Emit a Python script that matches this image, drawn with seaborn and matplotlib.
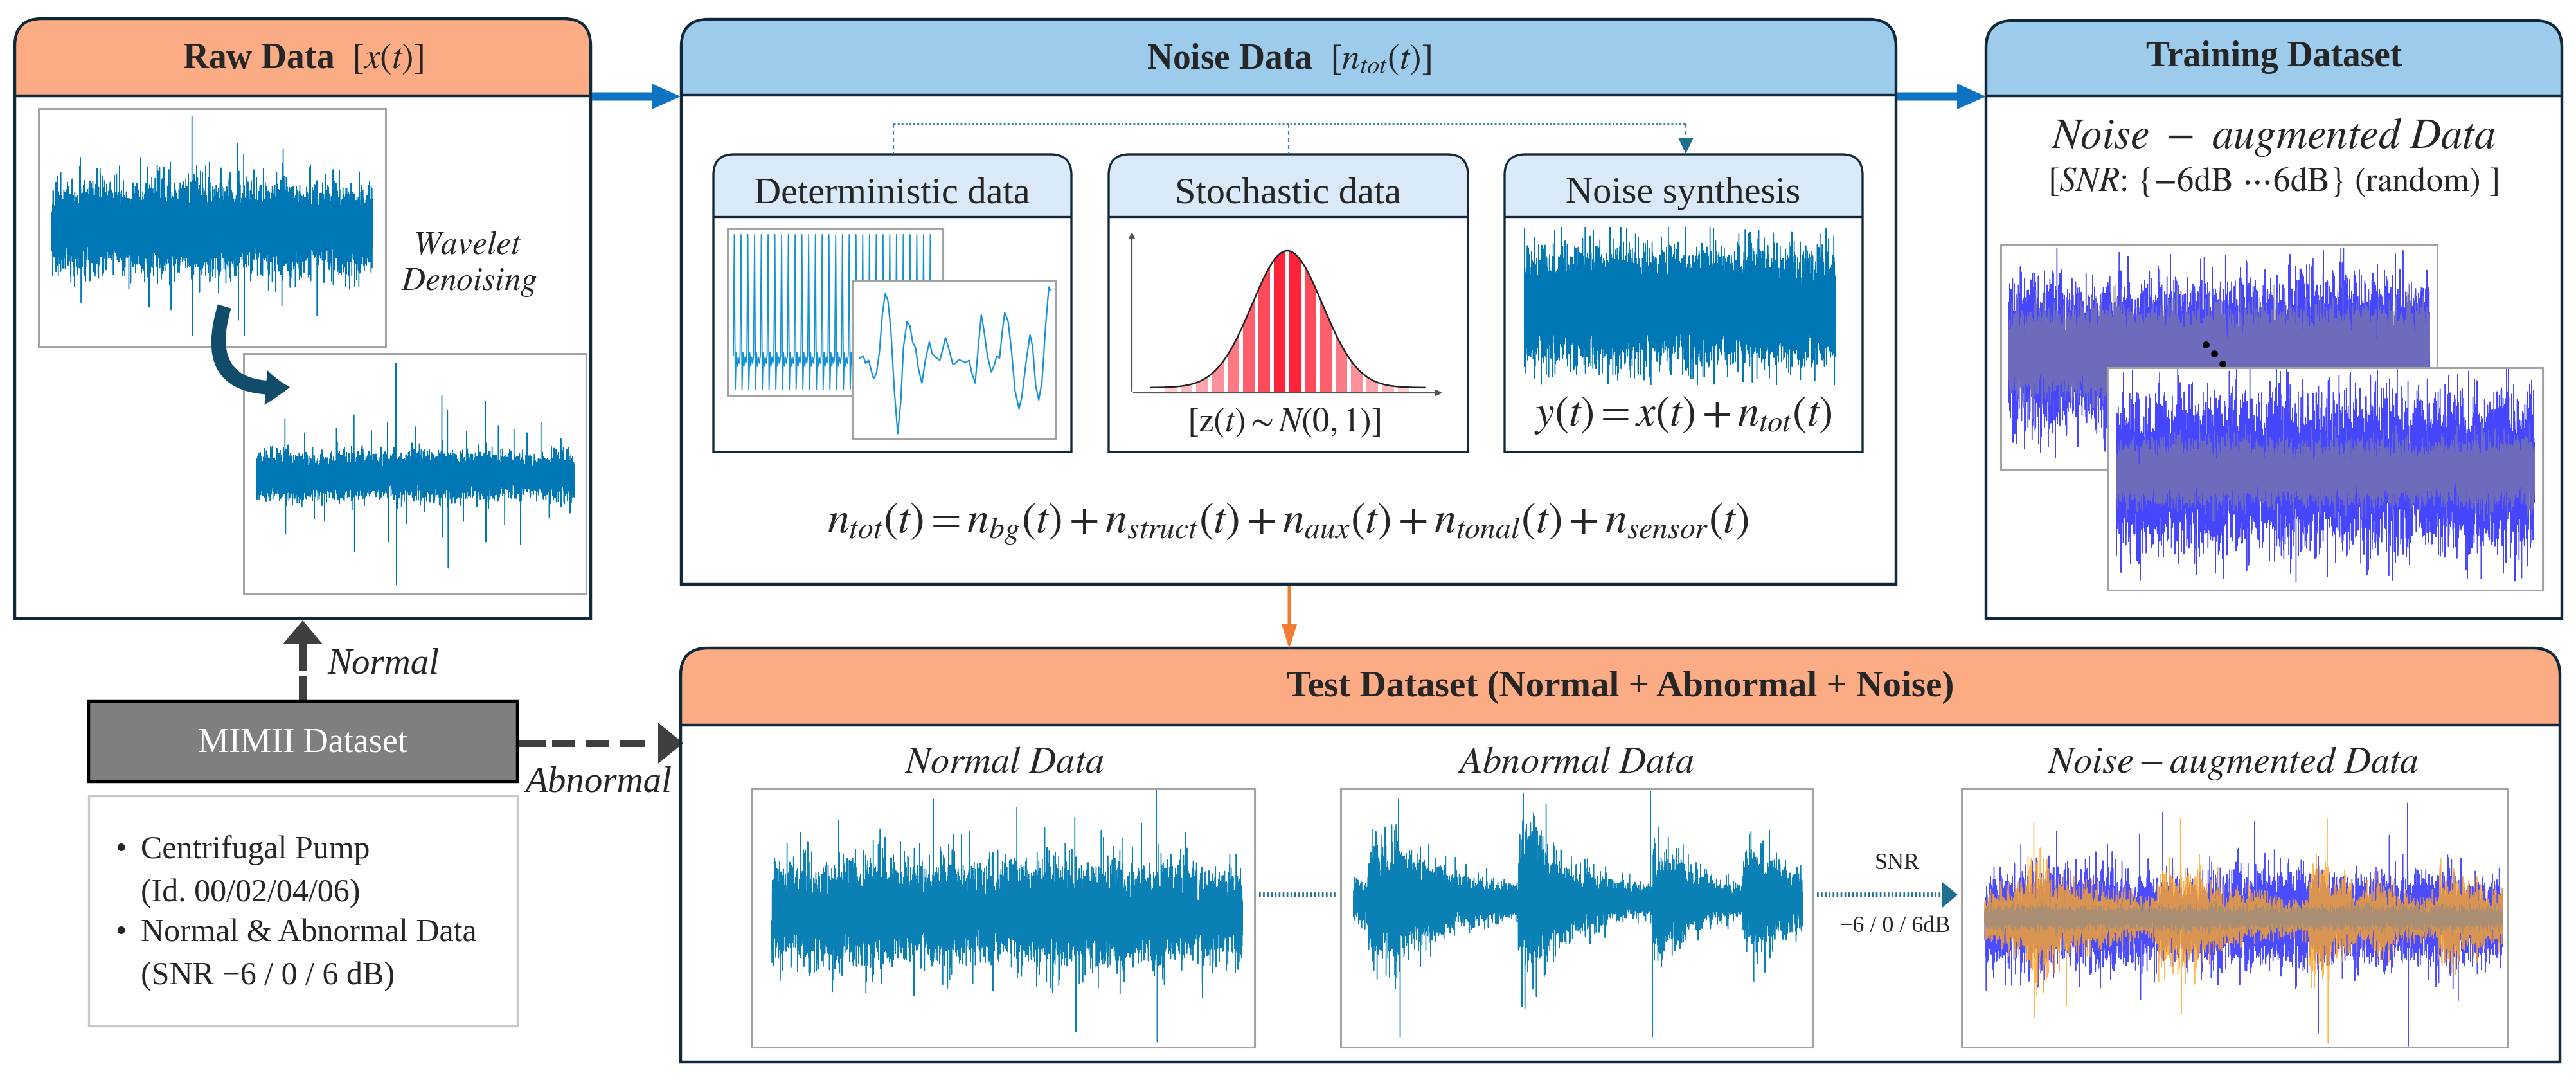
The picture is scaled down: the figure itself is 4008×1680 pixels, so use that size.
import numpy as np
import matplotlib
matplotlib.use("Agg")
import matplotlib.pyplot as plt
import seaborn as sns
from matplotlib.path import Path
from matplotlib.patches import PathPatch, Rectangle, Polygon, FancyArrowPatch, FancyArrow

# ---- values ------------------------------------------------------------
# deterministic panel: one period of the pulse train, tiled
PULSE_CYCLE = [0.22, 1.0, 0.0, 0.24, 0.15, 0.21, 0.17]
PULSE_COUNT = 30
# deterministic panel: slow wave (time, value)
SLOW_T = [0, 1.8, 3.0, 4.6, 5.8, 7.2, 8.7, 10.3, 11.8, 13.3, 14.7, 16.3, 18.1, 19.9, 21.5,
          22.9, 24.8, 26.3, 27.8, 29.2, 30.8, 32.6, 34.4, 36.5, 38.0, 39.9, 42.0, 43.5,
          45.0, 46.5, 48.9, 50.7, 51.9, 53.7, 55.6, 57.4, 58.9, 60.6, 62.2, 63.8, 65.2,
          67.0, 69.1, 70.7, 71.9, 73.4, 74.9, 76.1, 77.9, 79.7, 81.5, 83.6, 85.1, 87.6,
          89.4, 90.8, 92.4, 94.0, 95.7, 97.6, 99.3, 100]
SLOW_V = [0.03, 0.06, -0.04, 0.0, -0.12, -0.25, -0.18, 0.12, 0.62, 0.91, 0.82, 0.41, -0.41,
          -1.0, -0.56, 0.18, 0.53, 0.47, 0.24, 0.18, -0.12, -0.31, 0.0, 0.25, 0.09, 0.04,
          0.0, 0.15, 0.31, 0.18, -0.06, -0.03, 0.01, -0.01, -0.03, 0.0, -0.18, -0.31, 0.18,
          0.62, 0.41, 0.06, -0.16, -0.06, 0.06, 0.03, 0.41, 0.65, 0.53, 0.12, -0.41, -0.66,
          -0.5, 0.03, 0.35, 0.18, -0.35, -0.54, -0.29, 0.47, 1.0, 0.96]
# stochastic panel bars (z position) and colours from the tails inwards
BAR_Z = [-3.29, -2.85, -2.41, -1.97, -1.53, -1.09, -0.66, -0.22,
         0.22, 0.66, 1.09, 1.53, 1.97, 2.41, 2.85, 3.29]
BAR_SHADES = ["#ffcdd0", "#ffb8bd", "#ffa6ad", "#ff8f98", "#ff7a84", "#ff5f6c", "#ff4a59", "#ff2339"]

# waveform envelopes (edge amplitude, fraction of half frame) and spikes (position, value)
RAW1_LEVELS = [0.45, 0.47, 0.44, 0.48, 0.46, 0.50, 0.47, 0.45, 0.49, 0.46, 0.44, 0.45]
RAW1_SPIKES = [(0.089, 0.59), (0.211, 0.52), (0.277, 0.59), (0.370, 0.55), (0.437, 0.94),
               (0.580, 0.71), (0.599, 0.62), (0.722, 0.66), (0.807, 0.53), (0.960, 0.47),
               (0.091, -0.63), (0.303, -0.67), (0.372, -0.69), (0.439, -0.91), (0.582, -0.78),
               (0.601, -0.91), (0.718, -0.66), (0.828, -0.74), (0.676, -0.53),
               (0.150, 0.50), (0.330, 0.48), (0.480, 0.52), (0.660, 0.50), (0.880, 0.49),
               (0.240, -0.52), (0.520, -0.55), (0.760, -0.50), (0.930, -0.52)]
RAW2_LEVELS = [0.24, 0.25, 0.23, 0.26, 0.24, 0.25, 0.27, 0.24, 0.25, 0.23, 0.20, 0.24]
RAW2_SPIKES = [(0.088, 0.48), (0.305, 0.51), (0.411, 0.45), (0.437, 0.94), (0.582, 0.67),
               (0.600, 0.55), (0.719, 0.62), (0.809, 0.39), (0.894, 0.45), (0.957, 0.31),
               (0.090, -0.48), (0.213, -0.38), (0.307, -0.63), (0.413, -0.55), (0.439, -0.91),
               (0.584, -0.51), (0.602, -0.77), (0.721, -0.55), (0.830, -0.57), (0.986, -0.31),
               (0.150, 0.36), (0.250, 0.40), (0.360, 0.38), (0.500, 0.41), (0.660, 0.37),
               (0.760, 0.42), (0.850, 0.36), (0.180, -0.36), (0.470, -0.40), (0.650, -0.38),
               (0.780, -0.41), (0.920, -0.35)]
SYN_LEVELS = [0.90, 0.95, 0.92, 0.97, 0.93, 0.95, 0.90, 0.96, 0.94, 0.92]
SYN_SPIKES = [(0.12, 1.0), (0.33, 0.98), (0.52, 1.0), (0.71, 0.97), (0.27, -0.98), (0.61, -0.99)]
TRB_LEVELS = [0.82, 0.85, 0.80, 0.82, 0.84, 0.80, 0.86, 0.83, 0.88, 0.85, 0.84, 0.82]
TRB_GRAY = [0.54, 0.56, 0.53, 0.55, 0.54, 0.56]
TRB_SPIKES = [(0.748, 0.91), (0.937, 0.91), (0.355, 0.77), (0.692, 0.75), (0.266, 0.73),
              (0.056, 0.71), (0.093, -0.84), (0.164, -0.84), (0.009, -0.80)]
TRF_LEVELS = [0.88, 0.86, 0.90, 0.87, 0.89, 0.85, 0.88, 0.90, 0.86, 0.88, 0.87, 0.89]
TRF_GRAY = [0.38, 0.40, 0.37, 0.39, 0.38, 0.40]
TRF_SPIKES = [(0.27, 0.91), (0.843, 0.91), (0.533, 0.87), (0.148, 0.87), (0.744, 0.84),
              (0.43, -0.99), (0.66, -0.97), (0.237, -0.91), (0.97, -0.95), (0.011, -0.90)]
NORMAL_LEVELS = [0.50, 0.52, 0.50, 0.55, 0.50, 0.53, 0.55, 0.50, 0.52, 0.56, 0.50, 0.53,
                 0.50, 0.55, 0.50, 0.48]
NORMAL_SPIKES = [(0.343, 0.88), (0.521, 0.82), (0.817, 0.95), (0.644, 0.74), (0.142, 0.72),
                 (0.786, 0.69), (0.646, -0.92), (0.819, -1.0), (0.302, -0.64), (0.915, -0.66),
                 (0.129, -0.61), (0.060, 0.62), (0.230, 0.65), (0.420, 0.63), (0.580, 0.66),
                 (0.700, 0.64), (0.880, 0.62), (0.200, -0.62), (0.470, -0.60), (0.740, -0.63)]
ABNORMAL_LEVELS = [0.22, 0.62, 0.66, 0.52, 0.46, 0.40, 0.32, 0.26, 0.23, 0.20, 0.19, 0.78,
                   0.70, 0.46, 0.37, 0.30, 0.26, 0.21, 0.19, 0.17, 0.60, 0.46, 0.33, 0.28,
                   0.21, 0.17, 0.56, 0.50, 0.42, 0.35]
ABNORMAL_SPIKES = [(0.100, 0.79), (0.378, 0.84), (0.662, 0.85), (0.886, 0.54),
                   (0.104, -1.05), (0.382, -0.83), (0.666, -1.05), (0.892, -0.62)]
AUG_BLUE_LEVELS = [0.47, 0.50, 0.52, 0.45, 0.42, 0.50, 0.48, 0.50, 0.45, 0.47, 0.50, 0.42]
AUG_BLUE_SPIKES = [(0.344, 0.82), (0.521, 0.75), (0.816, 0.89), (0.070, 0.57), (0.139, 0.67),
                   (0.299, 0.65), (0.781, 0.64), (0.818, -0.99), (0.644, -0.89), (0.003, -0.56),
                   (0.301, -0.63), (0.914, -0.64)]
AUG_ORANGE_LEVELS = [0.26, 0.35, 0.56, 0.41, 0.32, 0.26, 0.23, 0.20, 0.50, 0.55, 0.36, 0.27,
                     0.23, 0.19, 0.17, 0.55, 0.38, 0.27, 0.36, 0.23, 0.20, 0.45, 0.36, 0.29]
AUG_ORANGE_SPIKES = [(0.095, 0.74), (0.097, -0.77), (0.378, 0.77), (0.380, -0.74),
                     (0.661, 0.77), (0.663, -0.97), (0.158, -0.68)]
AUG_GRAY_LEVELS = [0.12]

W, H = 4008, 1680
NAVY = "#10293a"
ORANGE_HDR = "#fbac84"
BLUE_HDR = "#9ccbec"
SUB_HDR = "#d9e9f7"
FRAME = "#a3a3a3"
SIG = "#0077b5"
SIG2 = "#0a80b4"
LIGHT_SIG = "#1592d4"

sns.set_theme(style="white")
plt.rcParams["font.family"] = ["Liberation Serif", "DejaVu Serif"]
plt.rcParams["mathtext.fontset"] = "stix"

fig = plt.figure(figsize=(W / 100, H / 100), dpi=100)
ax = fig.add_axes([0, 0, 1, 1])
ax.set_xlim(0, W)
ax.set_ylim(H, 0)
ax.axis("off")


def top_round(x0, y0, x1, y1, r):
    verts = [(x0, y1), (x0, y0 + r), (x0, y0), (x0 + r, y0), (x1 - r, y0),
             (x1, y0), (x1, y0 + r), (x1, y1), (x0, y1)]
    codes = [Path.MOVETO, Path.LINETO, Path.CURVE3, Path.CURVE3, Path.LINETO,
             Path.CURVE3, Path.CURVE3, Path.LINETO, Path.CLOSEPOLY]
    return Path(verts, codes)


def panel(x0, y0, x1, y1, yh, hdr, r=42, lw=3.2):
    ax.add_patch(PathPatch(top_round(x0, y0, x1, y1, r), fc="white", ec="none", zorder=1))
    ax.add_patch(PathPatch(top_round(x0, y0, x1, yh, r), fc=hdr, ec="none", zorder=2))
    ax.add_patch(PathPatch(top_round(x0, y0, x1, y1, r), fc="none", ec=NAVY, lw=lw, zorder=3))
    ax.plot([x0, x1], [yh, yh], color=NAVY, lw=lw, zorder=3, solid_capstyle="butt")


def px_axes(x0, y0, x1, y1, frame=True):
    a = fig.add_axes([x0 / W, 1 - y1 / H, (x1 - x0) / W, (y1 - y0) / H])
    a.set_xticks([])
    a.set_yticks([])
    for s in a.spines.values():
        s.set_visible(frame)
        s.set_color(FRAME)
        s.set_linewidth(2.2)
    a.set_facecolor("white" if frame else "none")
    return a


def texture(seed, n, levels, spikes=(), offset=0.0):
    # seeded carrier only gives the fill texture; the envelope and spikes come from the lists
    rng = np.random.default_rng(seed)
    env = np.repeat(np.asarray(levels, float), int(np.ceil(n / len(levels))))[:n]
    y = np.clip(rng.standard_normal(n), -3.3, 3.3) * env / 3.0
    for pos, val in spikes:
        y[int(pos * (n - 1))] = val
    return y + offset


def draw_wave(a, y, color, lw=1.0, alpha=1.0, z=2):
    sns.lineplot(x=np.arange(len(y)), y=y, ax=a, color=color, linewidth=lw, alpha=alpha,
                 estimator=None, sort=False, legend=False, zorder=z)
    a.set_xlabel("")
    a.set_ylabel("")


def span(a, n, fx0, fx1, sx0, sx1):
    pps = (sx1 - sx0) / (n - 1)
    a.set_xlim(-(sx0 - fx0) / pps, (n - 1) + (fx1 - sx1) / pps)
    a.set_ylim(-1, 1)


# ---- panels ---------------------------------------------------------------
panel(23, 29, 919, 962, 149, ORANGE_HDR)
panel(1060, 30, 2950, 909, 148, BLUE_HDR)
panel(3090, 32, 3986, 962, 149, BLUE_HDR)
panel(1059, 1008, 3983, 1652, 1128, ORANGE_HDR)
for sx0, sx1 in [(1110, 1667), (1725, 2284), (2341, 2898)]:
    panel(sx0, 240, sx1, 703, 337, SUB_HDR, r=32, lw=2.4)

bold = dict(fontsize=40, fontweight="bold", ha="center", va="center", zorder=5)
ax.text(471, 92, r"Raw Data  $[x(t)]$", **bold)
ax.text(2005, 92, r"Noise Data  $[n_{tot}(t)]$", **bold)
ax.text(3538, 89, "Training Dataset", **bold)
ax.text(2521, 1069, "Test Dataset (Normal + Abnormal + Noise)", fontsize=41,
        fontweight="bold", ha="center", va="center", zorder=5)

for cx, title in [(1388, "Deterministic data"), (2004, "Stochastic data"), (2619, "Noise synthesis")]:
    ax.text(cx, 301, title, fontsize=42, ha="center", va="center", zorder=5)

ax.text(727, 383, r"$Wavelet$", fontsize=37, ha="center", va="center")
ax.text(730, 440, r"$Denoising$", fontsize=37, ha="center", va="center")

ax.text(1997, 658, r"$[\mathrm{z}(t){\sim}N(0,1)]$", fontsize=38, ha="center", va="center")
ax.text(2619, 646, r"$y(t)=x(t)+n_{tot}(t)$", fontsize=48, ha="center", va="center")
ax.text(2004, 815, r"$n_{tot}(t)=n_{bg}(t)+n_{struct}(t)+n_{aux}(t)+n_{tonal}(t)+n_{sensor}(t)$",
        fontsize=49, ha="center", va="center")

ax.text(3537, 214, r"$Noise\ -\ augmented\ Data$", fontsize=48, ha="center", va="center")
ax.text(3537, 284, r"[$SNR$: {$-$6dB $\cdots$6dB} (random) ]", fontsize=38, ha="center",
        va="center", family="STIXGeneral")

sub = dict(fontsize=42, ha="center", va="center")
ax.text(1563, 1188, r"$Normal\ Data$", **sub)
ax.text(2452, 1188, r"$Abnormal\ Data$", **sub)
ax.text(3474, 1188, r"$Noise-augmented\ Data$", **sub)
ax.text(2952, 1343, "SNR", fontsize=26, ha="center", va="center")
ax.text(2948, 1442, "\u22126 / 0 / 6dB", fontsize=26, ha="center", va="center")

# ---- MIMII block and gray arrows ----------------------------------------------
ax.add_patch(Rectangle((138, 1091), 667, 125, fc="#7f7f7f", ec="black", lw=3.2, zorder=3))
ax.text(471, 1156, "MIMII Dataset", color="white", fontsize=39, ha="center", va="center", zorder=4)
ax.add_patch(Rectangle((138, 1238), 667, 358, fc="white", ec="#c8c8c8", lw=2.4, zorder=3))
for yy, bullet, line in [(1323, True, "Centrifugal Pump"), (1390, False, "(Id. 00/02/04/06)"),
                         (1452, True, "Normal & Abnormal Data"),
                         (1519, False, "(SNR \u22126 / 0 / 6 dB)")]:
    if bullet:
        ax.text(179, yy, "\u2022", fontsize=36, ha="left", va="center", zorder=4)
    ax.text(219, yy, line, fontsize=36, ha="left", va="center", zorder=4)

GRAY_ARROW = "#3f3f3f"
ax.add_patch(Rectangle((465, 1052), 12, 39, fc=GRAY_ARROW, ec="none"))
ax.add_patch(FancyArrow(471, 1044, 0, -79, width=12, head_width=62, head_length=37,
                        length_includes_head=True, fc=GRAY_ARROW, ec="none"))
ax.text(509, 1034, "Normal", fontsize=41, style="italic", ha="left", va="center")
for d0, d1 in [(807, 849), (859, 894), (912, 947), (965, 1003)]:
    ax.add_patch(Rectangle((d0, 1150.5), d1 - d0, 11, fc=GRAY_ARROW, ec="none"))
ax.add_patch(Polygon([(1024, 1124), (1063, 1156), (1024, 1188)], fc=GRAY_ARROW, ec="none"))
ax.text(817, 1218, "Abnormal", fontsize=41, style="italic", ha="left", va="center")

# ---- flow arrows ---------------------------------------------------------------------
ARROW_BLUE = "#0f73c3"
ax.add_patch(FancyArrow(921, 150, 138, 0, width=13, head_width=40, head_length=45,
                        length_includes_head=True, fc=ARROW_BLUE, ec="none", zorder=4))
ax.add_patch(FancyArrow(2952, 150, 138, 0, width=13, head_width=40, head_length=45,
                        length_includes_head=True, fc=ARROW_BLUE, ec="none", zorder=4))
ax.add_patch(FancyArrow(2006, 911, 0, 98, width=5, head_width=24, head_length=38,
                        length_includes_head=True, fc="#f47c30", ec="none", zorder=4))

DOT = "#3f84a8"
ax.plot([1390, 2623], [192, 192], color=DOT, lw=2.2, ls=(0, (1, 1)), zorder=4)
ax.plot([1390, 1390], [192, 240], color=DOT, lw=1.6, ls=(0, (3, 2)), zorder=4)
ax.plot([2005, 2005], [192, 240], color=DOT, lw=1.6, ls=(0, (3, 2)), zorder=4)
ax.plot([2623, 2623], [192, 216], color=DOT, lw=1.6, ls=(0, (3, 2)), zorder=4)
ax.add_patch(Polygon([(2611, 214), (2635, 214), (2623, 239)], fc="#1f6e8c", ec="none", zorder=4))

TEAL = "#1e6f8e"
ax.plot([1959, 2078], [1392, 1392], color=TEAL, lw=5.5, dashes=(0.35, 0.45),
        dash_capstyle="butt", zorder=4)
ax.plot([2827, 3024], [1392, 1392], color=TEAL, lw=5.5, dashes=(0.35, 0.45),
        dash_capstyle="butt", zorder=4)
ax.add_patch(Polygon([(3022, 1372), (3046, 1392), (3022, 1412)], fc=TEAL, ec="none", zorder=4))

# ---- raw data insets ---------------------------------------------------------------------
N = 10000
a = px_axes(60, 169, 600, 539)
draw_wave(a, texture(1, N, RAW1_LEVELS, RAW1_SPIKES), SIG)
span(a, N, 60, 600, 81, 579)

a = px_axes(379, 550, 912, 923)
draw_wave(a, texture(2, N, RAW2_LEVELS, RAW2_SPIKES, offset=-0.02), SIG)
span(a, N, 379, 912, 400, 894)

curve = FancyArrowPatch((350, 474), (454, 602), connectionstyle="arc3,rad=0.75",
                        arrowstyle="simple,head_length=0.45,head_width=0.65,tail_width=0.26",
                        mutation_scale=60, fc="#114d6b", ec="none",
                        transform=ax.transData, zorder=10)
fig.add_artist(curve)

# ---- deterministic insets ---------------------------------------------------------------
a = px_axes(1132, 355, 1467, 615)
pulse = np.tile(PULSE_CYCLE, PULSE_COUNT)
draw_wave(a, pulse, LIGHT_SIG, lw=1.3)
span(a, len(pulse), 1132, 1467, 1141, 1455)
a.set_ylim(-0.037, 1.041)

a = px_axes(1326, 437, 1642, 682)
sns.lineplot(x=SLOW_T, y=SLOW_V, ax=a, color=LIGHT_SIG, linewidth=1.6, estimator=None,
             sort=False, legend=False)
a.set_xlim(-4.0, 102.7)
a.set_ylim(-1.065, 1.082)

# ---- stochastic inset ------------------------------------------------------------------
a = px_axes(1761, 358, 2247, 611, frame=False)
a.set_xlim(-4.4, 4.44)
a.set_ylim(0, 1.188)
z = np.linspace(-3.87, 3.89, 400)
bell = 0.0376 + np.exp(-z ** 2 / 2)
clip = Polygon(np.column_stack([np.r_[z, z[::-1]], np.r_[bell, np.zeros_like(bell)]]),
               closed=True, fc="none", ec="none", transform=a.transData)
a.add_patch(clip)
shades = BAR_SHADES + BAR_SHADES[::-1]
bars = a.bar(BAR_Z, 1.2, width=0.33, color=shades, linewidth=0)
for b in bars:
    b.set_clip_path(clip)
sns.lineplot(x=z, y=bell, ax=a, color="#222222", linewidth=1.8, legend=False)
a.annotate("", xy=(0, 1), xytext=(0, 0), xycoords="axes fraction",
           arrowprops=dict(arrowstyle="-|>", color="#555555", lw=1.6, mutation_scale=14))
a.annotate("", xy=(1, 0), xytext=(0, 0), xycoords="axes fraction",
           arrowprops=dict(arrowstyle="-|>", color="#555555", lw=1.6, mutation_scale=14))

# ---- noise synthesis inset ---------------------------------------------------------------
a = px_axes(2371, 353, 2856, 599, frame=False)
draw_wave(a, texture(3, N, SYN_LEVELS, SYN_SPIKES), SIG)
span(a, N, 2371, 2856, 2371, 2856)

# ---- training insets ------------------------------------------------------------------------
BLUE = "#4646ff"
a = px_axes(3113, 381, 3792, 730)
draw_wave(a, texture(4, N, TRB_LEVELS, TRB_SPIKES, offset=0.04), BLUE)
draw_wave(a, texture(5, N, TRB_GRAY, offset=0.04), "#8e8a86", alpha=0.55, z=3)
span(a, N, 3113, 3792, 3126, 3780)
a.scatter([0.47, 0.489, 0.508], [0.556, 0.516, 0.47], s=45, color="black",
          transform=a.transAxes, zorder=6)

a = px_axes(3279, 572, 3956, 918)
draw_wave(a, texture(6, N, TRF_LEVELS, TRF_SPIKES, offset=0.06), BLUE)
draw_wave(a, texture(7, N, TRF_GRAY, offset=0.06), "#8e8a86", alpha=0.55, z=3)
span(a, N, 3279, 3956, 3293, 3943)

# ---- test insets ---------------------------------------------------------------------------
a = px_axes(1169, 1227, 1952, 1629)
draw_wave(a, texture(8, N, NORMAL_LEVELS, NORMAL_SPIKES, offset=0.04), SIG2)
span(a, N, 1169, 1952, 1201, 1933)

a = px_axes(2086, 1227, 2820, 1629)
draw_wave(a, texture(9, N, ABNORMAL_LEVELS, ABNORMAL_SPIKES, offset=0.13), SIG2)
span(a, N, 2086, 2820, 2106, 2804)

a = px_axes(3052, 1227, 3902, 1629)
draw_wave(a, texture(10, N, AUG_BLUE_LEVELS, AUG_BLUE_SPIKES), "#4b4bff")
draw_wave(a, texture(11, N, AUG_ORANGE_LEVELS, AUG_ORANGE_SPIKES), "#ffa726", alpha=0.8, z=3)
draw_wave(a, texture(12, N, AUG_GRAY_LEVELS), "#8a8a8a", alpha=0.6, z=4)
span(a, N, 3052, 3902, 3088, 3894)

fig.savefig("out.png", dpi=100)
